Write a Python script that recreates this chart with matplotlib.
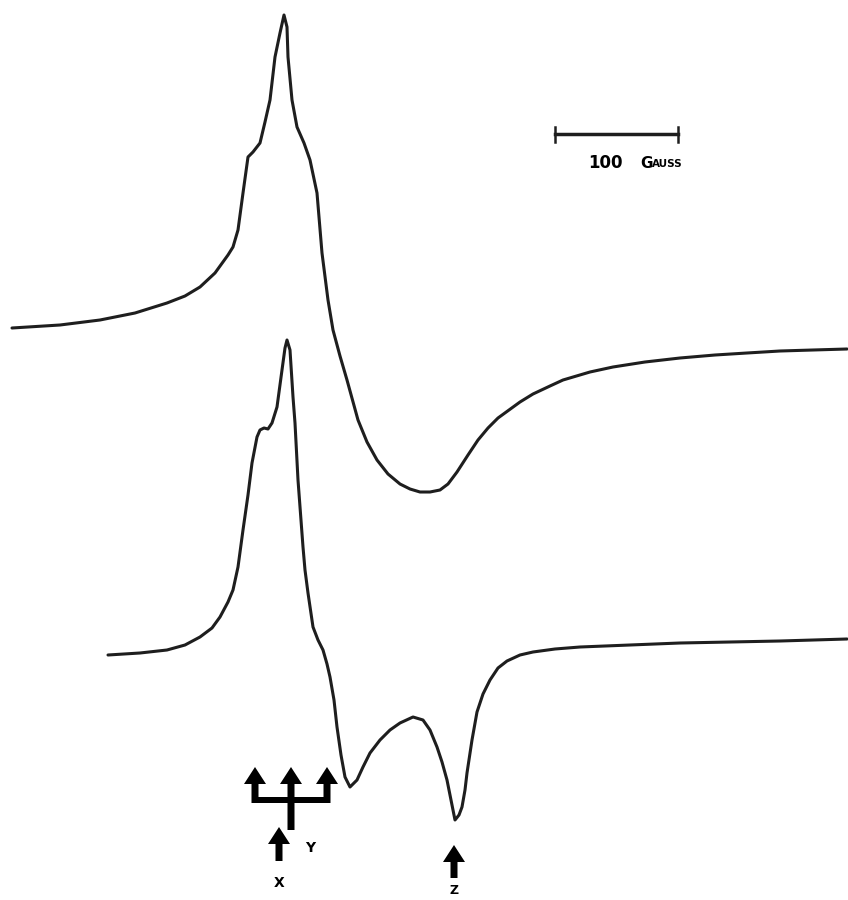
import matplotlib.pyplot as plt
from matplotlib.patches import FancyArrow, Rectangle

# 上方谱线（像素坐标，y 向下）
top_x = [12, 60, 100, 135, 167, 185, 200, 215, 228, 233, 238, 243, 248, 253, 260, 265, 270,
         275, 280, 284, 287, 288, 292, 297, 304, 310, 317, 322, 328, 333, 340, 347, 358, 367,
         377, 388, 400, 410, 420, 430, 440, 448, 457, 468, 478, 488, 498, 509, 520, 533, 550, 563,
         590, 613, 645, 680, 715, 747, 780, 813, 847]
top_y = [328, 325, 320, 313, 303, 296, 287, 273, 255, 247, 230, 193, 157, 152, 143, 122, 100,
         57, 33, 15, 27, 57, 100, 127, 143, 160, 193, 253, 300, 330, 356, 380, 420, 442,
         460, 474, 484, 489, 492, 492, 490, 484, 472, 455, 440, 428, 418, 410, 402, 394, 386, 380,
         372, 367, 362, 358, 355, 353, 351, 350, 349]

# 下方谱线
bot_x = [108, 140, 167, 185, 200, 212, 220, 228, 233, 238, 243, 248, 252, 257, 260, 264, 268,
         272, 277, 282, 285, 287, 290, 293, 295, 298, 303, 305, 308, 313, 318, 323, 327, 330,
         334, 337, 341, 345, 350, 357, 363, 370, 380, 390, 400, 413, 423, 430, 437, 442, 447,
         451, 455, 459, 462, 465, 467, 472, 477, 483, 490, 498, 507, 520, 533, 555, 580, 630,
         680, 730, 780, 847]
bot_y = [655, 653, 650, 645, 637, 628, 617, 602, 590, 567, 530, 495, 463, 437, 430, 428, 429,
         423, 407, 370, 348, 340, 350, 397, 423, 480, 547, 570, 593, 627, 640, 650, 664, 677,
         700, 727, 755, 777, 787, 780, 767, 753, 740, 730, 723, 717, 720, 730, 747, 762, 780,
         800, 820, 815, 807, 790, 773, 740, 712, 694, 680, 668, 661, 655, 652, 649, 647, 645,
         643, 642, 641, 639]

# 箭头（标记 x、y、z 位置）
fork_x = [255, 291, 327]
x_arrow = 279
z_arrow = 454
scale_x = [555, 678]   # 100 Gauss 标尺

fig = plt.figure(figsize=(8.48, 9), dpi=100)
ax = fig.add_axes([0, 0, 1, 1])
ax.set_xlim(0, 848)
ax.set_ylim(900, 0)
ax.axis('off')

line_kw = dict(color='#1e1e1e', linewidth=2.2, solid_joinstyle='round', solid_capstyle='round')
ax.plot(top_x, top_y, **line_kw)
ax.plot(bot_x, bot_y, **line_kw)

arr_kw = dict(width=7, head_width=22, head_length=17, length_includes_head=True,
              color='black', linewidth=0)
for fx in fork_x:
    y0 = 830 if fx == fork_x[1] else 803
    ax.add_patch(FancyArrow(fx, y0, 0, 767 - y0, **arr_kw))
ax.add_patch(Rectangle((fork_x[0] - 3, 797), fork_x[-1] - fork_x[0] + 6, 6, color='black', linewidth=0))
ax.add_patch(FancyArrow(x_arrow, 861, 0, 827 - 861, **arr_kw))
ax.add_patch(FancyArrow(z_arrow, 878, 0, 845 - 878, **arr_kw))

ax.text(x_arrow, 883, 'X', ha='center', va='center', fontsize=10, fontweight='bold')
ax.text(310, 848, 'Y', ha='center', va='center', fontsize=10, fontweight='bold')
ax.text(z_arrow, 891, 'Z', ha='center', va='center', fontsize=9, fontweight='bold')

# 标尺
ax.plot(scale_x, [134, 134], color='#1e1e1e', linewidth=2.5)
for sx in scale_x:
    ax.plot([sx, sx], [127, 142], color='#1e1e1e', linewidth=1.8)
ax.text(588, 163, '100', ha='left', va='center', fontsize=12, fontweight='bold')
ax.text(640, 163, 'G', ha='left', va='center', fontsize=11, fontweight='bold')
ax.text(652, 164, 'AUSS', ha='left', va='center', fontsize=7.5, fontweight='bold')

plt.savefig('out.png', dpi=100)
